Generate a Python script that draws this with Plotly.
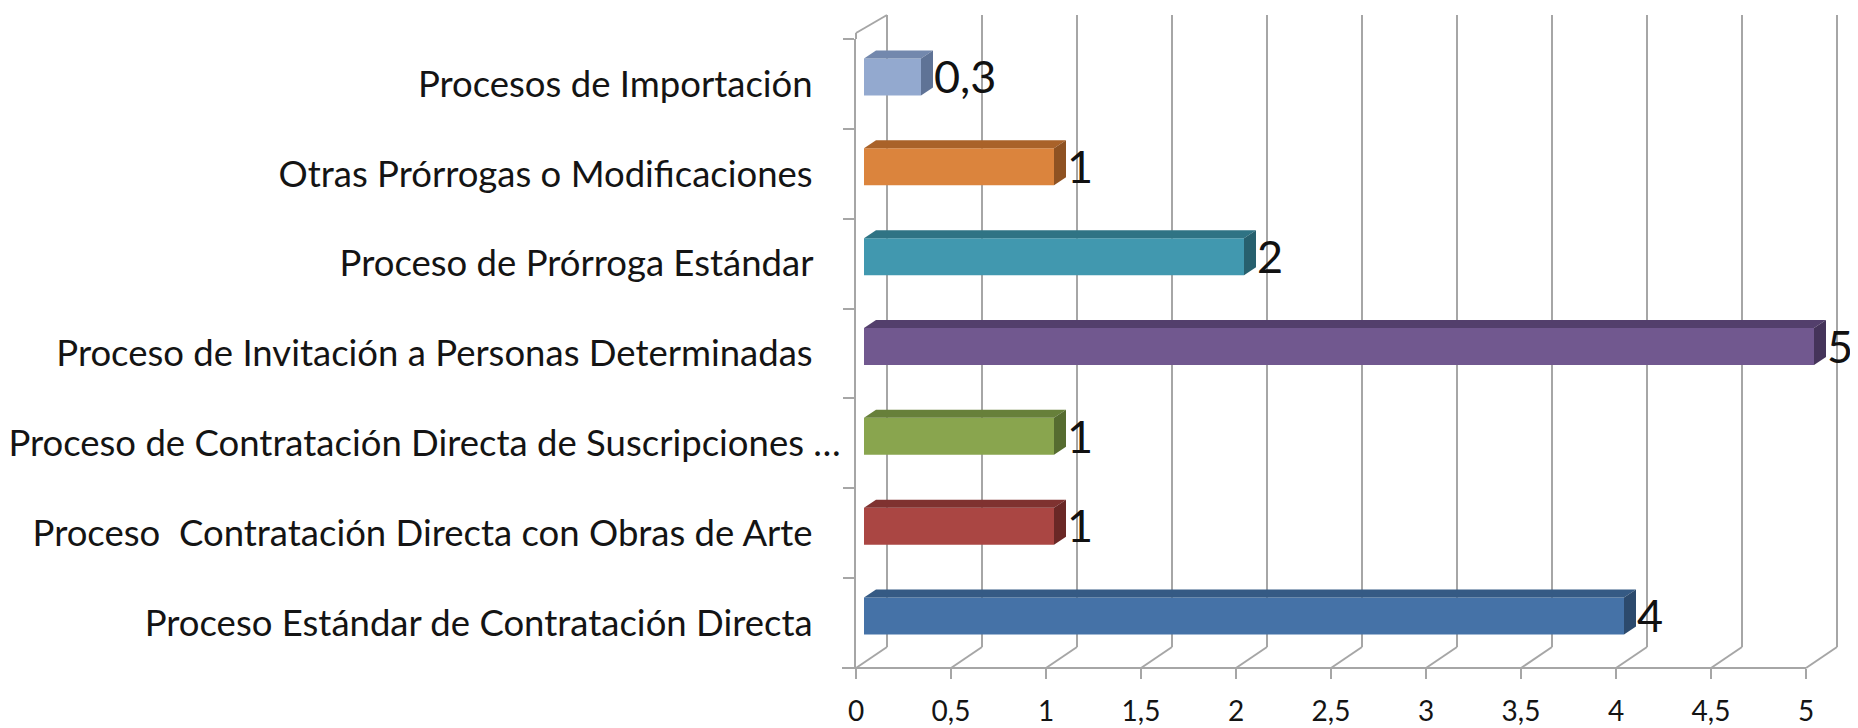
import plotly.graph_objects as go

# ---------------- data (bottom -> top) ----------------
categories = [
    "Proceso Estándar de Contratación Directa",
    "Proceso  Contratación Directa con Obras de Arte",
    "Proceso de Contratación Directa de Suscripciones …",
    "Proceso de Invitación a Personas Determinadas",
    "Proceso de Prórroga Estándar",
    "Otras Prórrogas o Modificaciones",
    "Procesos de Importación",
]
values = [4, 1, 1, 5, 2, 1, 0.3]
value_labels = ["4", "1", "1", "5", "2", "1", "0,3"]
x_tick_values = [0, 0.5, 1, 1.5, 2, 2.5, 3, 3.5, 4, 4.5, 5]
x_tick_labels = ["0", "0,5", "1", "1,5", "2", "2,5", "3", "3,5", "4", "4,5", "5"]

front_colors = ["#4572A7", "#AA4643", "#89A54E", "#71588F", "#4198AF", "#DB843D", "#93A9CF"]
top_colors = ["#355A84", "#7F3230", "#67803A", "#533F6C", "#2F7384", "#A96229", "#7388AD"]
side_colors = ["#2C4A6D", "#6A2826", "#566C30", "#45345A", "#27606E", "#8E5222", "#5F7396"]

# ---------------- geometry (screen px; page body has an 8px margin) ----------------
OFF = 8
SW, SH = 1858, 728
W, H = SW - OFF, SH - OFF
PL, PT, PB = 856, 39, 668          # plot area left / top / bottom (screen px)
PR = SW
UNIT = 190.0                        # px per value unit
BAND = (PB - PT) / 7.0              # px per category
BAR_X0 = 864                        # px where bars start
BAR_SHIFT = 7                       # bars sit slightly above band centre (depth)
DEPTH_X, DEPTH_Y = 12, 8            # bar 3D depth in px
BACK_X, BACK_DY = 31, 21            # back wall offset
WALL_TOP = 15
LABEL_DX, LABEL_DY = 13, 5          # value label offset from bar end (px)

bar_w = 37 / BAND
dx = DEPTH_X / UNIT
dy = DEPTH_Y / BAND

def px_x(p):
    return (p - PL) / (PR - PL)

def px_y(p):
    return (PB - p) / (PB - PT)

FONT = "Lato, 'Open Sans', sans-serif"
label_font = dict(family=FONT, size=36.5, color="#141414")

fig = go.Figure()

pos = list(range(len(categories)))

# anchor trace for the main (labelled) axes
fig.add_trace(go.Scatter(
    x=values, y=pos, mode="markers", marker=dict(size=1, opacity=0),
    xaxis="x", yaxis="y", hoverinfo="skip", showlegend=False,
))

# front faces
fig.add_trace(go.Bar(
    y=pos, x=values, orientation="h", width=bar_w,
    marker=dict(color=front_colors, line=dict(width=0)),
    xaxis="x2", yaxis="y2", hoverinfo="skip", showlegend=False,
))

# top and side faces (3D look) computed from values
for i, v in enumerate(values):
    top = pos[i] + bar_w / 2
    bot = pos[i] - bar_w / 2
    fig.add_trace(go.Scatter(
        x=[0, v, v + dx, dx, 0], y=[top, top, top + dy, top + dy, top],
        mode="lines", fill="toself", fillcolor=top_colors[i],
        line=dict(width=0), xaxis="x2", yaxis="y2", hoverinfo="skip", showlegend=False,
    ))
    fig.add_trace(go.Scatter(
        x=[v, v + dx, v + dx, v, v], y=[bot, bot + dy, top + dy, top, bot],
        mode="lines", fill="toself", fillcolor=side_colors[i],
        line=dict(width=0), xaxis="x2", yaxis="y2", hoverinfo="skip", showlegend=False,
    ))

# value labels
fig.add_trace(go.Scatter(
    x=[v + LABEL_DX / UNIT for v in values], y=[p - LABEL_DY / BAND for p in pos],
    text=value_labels, mode="text", textposition="middle right",
    textfont=dict(family=FONT, size=45, color="#111111"),
    xaxis="x2", yaxis="y2", cliponaxis=False, hoverinfo="skip", showlegend=False,
))

# ---------------- walls / gridlines ----------------
grid = dict(color="#A6A6A6", width=2)
shapes = []
for v in x_tick_values:
    bx = PL + BACK_X + UNIT * v
    fx = PL + UNIT * v
    shapes.append(dict(type="line", xref="paper", yref="paper", layer="below",
                       x0=px_x(bx), x1=px_x(bx), y0=px_y(WALL_TOP), y1=px_y(PB - BACK_DY), line=grid))
    shapes.append(dict(type="line", xref="paper", yref="paper", layer="below",
                       x0=px_x(bx), x1=px_x(fx), y0=px_y(PB - BACK_DY), y1=px_y(PB), line=grid))
# floor front edge
shapes.append(dict(type="line", xref="paper", yref="paper",
                   x0=px_x(PL - 14), x1=px_x(PL + UNIT * x_tick_values[-1]), y0=0, y1=0, line=grid))
# left wall top edge
shapes.append(dict(type="line", xref="paper", yref="paper",
                   x0=0, x1=0, y0=px_y(PT), y1=px_y(PT - 6), line=grid))
shapes.append(dict(type="line", xref="paper", yref="paper",
                   x0=0, x1=px_x(PL + BACK_X), y0=px_y(PT - 6), y1=px_y(WALL_TOP), line=grid))

disp_cats = [c.replace("  ", "\u00a0 ") for c in categories]
disp_cats = [c if c.endswith("…") else c + "\u00a0\u00a0\u00a0" for c in disp_cats]

shift = BAR_SHIFT / BAND

fig.update_layout(
    width=W, height=H,
    margin=dict(l=PL - OFF, r=SW - PR, t=PT - OFF, b=SH - PB, pad=0, autoexpand=False),
    paper_bgcolor="white", plot_bgcolor="rgba(0,0,0,0)",
    showlegend=False,
    shapes=shapes,
    xaxis=dict(
        range=[0, (PR - PL) / UNIT], tickvals=x_tick_values, ticktext=x_tick_labels,
        showgrid=False, zeroline=False, showline=False, automargin=False,
        ticks="outside", ticklen=10, tickwidth=2, tickcolor="#A6A6A6",
        tickfont=dict(family=FONT, size=28, color="#141414"),
        ticklabelstandoff=8,
    ),
    xaxis2=dict(
        range=[-(BAR_X0 - PL) / UNIT, (PR - BAR_X0) / UNIT],
        overlaying="x", anchor="y", visible=False, automargin=False,
    ),
    yaxis=dict(
        range=[-0.5, 6.5], tickvals=pos, ticktext=disp_cats, automargin=False,
        showgrid=False, zeroline=False, showline=True, linecolor="#A6A6A6", linewidth=2,
        ticks="", tickfont=label_font, ticklabelstandoff=6,
        minor=dict(tickvals=[p - 0.5 for p in pos] + [pos[-1] + 0.5], ticks="outside",
                   ticklen=11, tickwidth=2, tickcolor="#A6A6A6", showgrid=False),
    ),
    yaxis2=dict(
        range=[-0.5 - shift, 6.5 - shift],
        overlaying="y", anchor="x", visible=False, automargin=False,
    ),
)

fig.write_html("out.html")
